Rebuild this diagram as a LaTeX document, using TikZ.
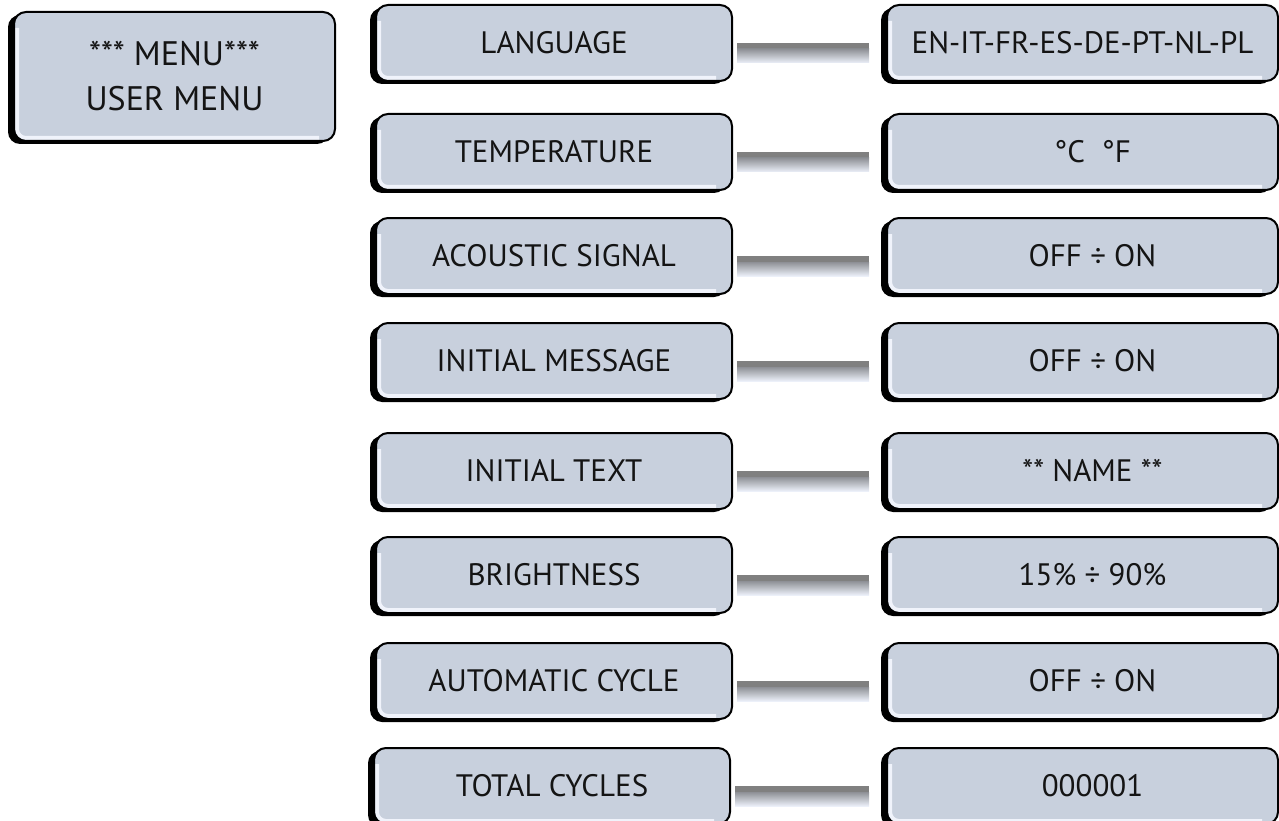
\documentclass[tikz,border=0pt]{standalone}
\usepackage{fontspec}
\setmainfont{PT Sans}
\usetikzlibrary{shadows,calc}
\definecolor{boxfill}{RGB}{200,208,221}
\definecolor{bevel}{RGB}{240,243,251}
\definecolor{bardark}{RGB}{128,128,128}
\definecolor{barmid}{RGB}{175,183,200}
\definecolor{barlight}{RGB}{236,240,249}
\definecolor{txt}{RGB}{20,20,20}
\newcommand{\txtoffset}[1]{\hspace*{20pt}#1}
\tikzset{
  panel/.style={draw=black, line width=2pt, rounded corners=12pt, fill=boxfill,
    general shadow={fill=black, shadow xshift=-6pt, shadow yshift=-3pt},
    font=\fontsize{31}{44}\selectfont, text=txt, align=center, inner sep=0pt,
    path picture={
      \draw[bevel, line width=4pt, rounded corners=9pt]
        ($(path picture bounding box.north west)+(3pt,-16pt)$) --
        ($(path picture bounding box.south west)+(3pt,3pt)$) --
        ($(path picture bounding box.south east)+(-16pt,3pt)$);
    }},
  leftbox/.style={panel, minimum width=356pt, minimum height=76pt},
  rightbox/.style={panel, minimum width=391pt, minimum height=76pt},
  menubox/.style={panel, minimum width=321pt, minimum height=129pt,
    font=\fontsize{34}{45}\selectfont},
}
\begin{document}
\begin{tikzpicture}[x=1pt,y=-1pt]
\useasboundingbox (0,0) rectangle (1279,821);

\node[menubox] (menu) at (174.5,76.5) {*** MENU***\\USER MENU};

\node[leftbox] (L1) at (554,43)  {LANGUAGE};
\node[leftbox] (L2) at (554,152) {TEMPERATURE};
\node[leftbox] (L3) at (554,256) {ACOUSTIC SIGNAL};
\node[leftbox] (L4) at (554,361) {INITIAL MESSAGE};
\node[leftbox] (L5) at (554,471) {INITIAL TEXT};
\node[leftbox] (L6) at (554,575) {BRIGHTNESS};
\node[leftbox] (L7) at (554,681) {AUTOMATIC CYCLE};
\node[leftbox] (L8) at (552,786) {TOTAL CYCLES};

\node[rightbox] (R1) at (1082.5,43)  {EN-IT-FR-ES-DE-PT-NL-PL};
\node[rightbox] (R2) at (1082.5,152) {\txtoffset{°C\ \ °F}};
\node[rightbox] (R3) at (1082.5,256) {\txtoffset{OFF ÷ ON}};
\node[rightbox] (R4) at (1082.5,361) {\txtoffset{OFF ÷ ON}};
\node[rightbox] (R5) at (1082.5,471) {\txtoffset{** NAME **}};
\node[rightbox] (R6) at (1082.5,575) {\txtoffset{15\% ÷ 90\%}};
\node[rightbox] (R7) at (1082.5,681) {\txtoffset{OFF ÷ ON}};
\node[rightbox] (R8) at (1082.5,786) {\txtoffset{000001}};

\foreach \i in {1,...,8}{
  \fill[bardark] ([xshift=4pt]L\i.east) rectangle ([xshift=-17pt,yshift=-6pt]R\i.west);
  \shade[top color=bardark!70!barmid, middle color=barmid, bottom color=barlight]
    ([xshift=4pt,yshift=-6pt]L\i.east) rectangle ([xshift=-17pt,yshift=-20pt]R\i.west);
}
\end{tikzpicture}
\end{document}
